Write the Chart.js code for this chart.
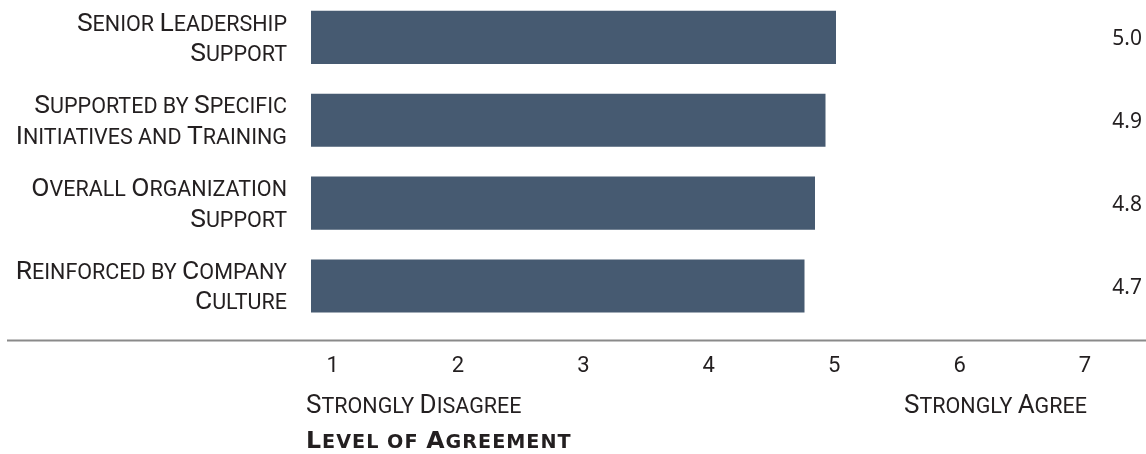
<!DOCTYPE html>
<html>
<head>
<meta charset="utf-8">
<script src="https://cdn.jsdelivr.net/npm/chart.js@4.4.1/dist/chart.umd.min.js"></script>
<style>
  html, body { margin: 0; padding: 0; background: #fff; }
  #wrap { width: 1146px; height: 454px; position: relative; }
</style>
</head>
<body>
<div id="wrap"><canvas id="agreementChart"></canvas></div>
<script>
const categories = [
    ['Senior Leadership', 'Support'],
    ['Supported by Specific', 'Initiatives and Training'],
    ['Overall Organization', 'Support'],
    ['Reinforced by Company', 'Culture']
];
const scores = [5.0, 4.9, 4.8, 4.7];
const scaleTicks = [1, 2, 3, 4, 5, 6, 7];
const anchorLabels = ['Strongly Disagree', 'Strongly Agree'];
const axisTitle = 'Level of Agreement';

const TEXT = '#231f20';
const BAR = '#465a71';
const FAMILY = 'Roboto, "Liberation Sans", sans-serif';
const TITLE_FAMILY = '"DejaVu Sans", Roboto, sans-serif';

// small caps: capitals at the big size, the rest upper-cased at the small size
function drawCaps(ctx, text, x, y, big, small, align, weight, family, spacing) {
    family = family || FAMILY;
    ctx.letterSpacing = (spacing || 0) + 'px';
    const runs = [];
    for (const ch of text) {
        const size = ch !== ch.toLowerCase() ? big : small;
        const last = runs[runs.length - 1];
        if (last && last.size === size) last.text += ch.toUpperCase();
        else runs.push({ text: ch.toUpperCase(), size: size });
    }
    let total = 0;
    runs.forEach(r => {
        ctx.font = weight + ' ' + r.size + 'px ' + family;
        r.w = ctx.measureText(r.text).width;
        total += r.w;
    });
    let cx = align === 'right' ? x - total : x;
    runs.forEach(r => {
        ctx.font = weight + ' ' + r.size + 'px ' + family;
        ctx.fillText(r.text, cx, y);
        cx += r.w;
    });
    ctx.letterSpacing = '0px';
}

const labelsPlugin = {
    id: 'agreementLabels',
    afterDraw(chart) {
        const ctx = chart.ctx;
        const area = chart.chartArea;
        const yScale = chart.scales.y;
        const tickScale = chart.scales.xt;
        ctx.save();
        ctx.fillStyle = TEXT;
        ctx.textBaseline = 'alphabetic';
        ctx.textAlign = 'left';

        categories.forEach((lines, i) => {
            const cy = yScale.getPixelForValue(i);
            lines.forEach((line, j) => {
                drawCaps(ctx, line, area.left - 24, cy - 6.8 + j * 30.2, 26.5, 21.5, 'right', 'normal');
            });
        });

        // score at the far right of each row
        ctx.font = '21px "Noto Sans", "Open Sans", sans-serif';
        ctx.textAlign = 'right';
        scores.forEach((v, i) => {
            ctx.fillText(v.toFixed(1), chart.width - 4, yScale.getPixelForValue(i) + 7.5);
        });
        ctx.textAlign = 'left';

        // rule under the bars
        ctx.strokeStyle = '#8a8a8a';
        ctx.lineWidth = 2;
        ctx.beginPath();
        ctx.moveTo(7, area.bottom + 54.6);
        ctx.lineTo(chart.width, area.bottom + 54.6);
        ctx.stroke();

        drawCaps(ctx, anchorLabels[0], area.left - 5, area.bottom + 127.1, 26, 21.5, 'left', 'normal');
        drawCaps(ctx, anchorLabels[1], tickScale.getPixelForValue(scaleTicks[scaleTicks.length - 1]) + 2,
            area.bottom + 127.1, 26, 21.5, 'right', 'normal');

        drawCaps(ctx, axisTitle, area.left - 5, area.bottom + 161.6, 23.7, 19.2, 'left', 'bold', TITLE_FAMILY, 1);
        ctx.restore();
    }
};

const ctx = document.getElementById('agreementChart').getContext('2d');

const agreementChart = new Chart(ctx, {
    type: 'bar',
    data: {
        labels: categories,
        datasets: [{
            data: scores,
            backgroundColor: BAR,
            borderWidth: 0,
            categoryPercentage: 1,
            barPercentage: 0.641,
            clip: false
        }]
    },
    options: {
        indexAxis: 'y',
        responsive: true,
        maintainAspectRatio: false,
        animation: false,
        layout: {
            padding: { left: 311, right: 47.5, top: 37.4, bottom: 50 }
        },
        scales: {
            x: {
                display: false,
                min: 0,
                max: 7.5
            },
            xt: {
                type: 'linear',
                position: 'bottom',
                min: 0.828,
                max: 7.108,
                afterBuildTicks: axis => {
                    axis.ticks = scaleTicks.map(v => ({ value: v }));
                },
                // tick marks are not drawn, the length only sets the gap above the labels
                grid: { display: false, drawTicks: true, tickLength: 43.6 },
                border: { display: false },
                ticks: {
                    padding: 24,
                    color: TEXT,
                    font: { family: FAMILY, size: 22 }
                }
            },
            y: {
                display: false,
                offset: false
            }
        },
        plugins: {
            legend: { display: false },
            tooltip: { enabled: false }
        }
    },
    plugins: [labelsPlugin]
});
</script>
</body>
</html>
